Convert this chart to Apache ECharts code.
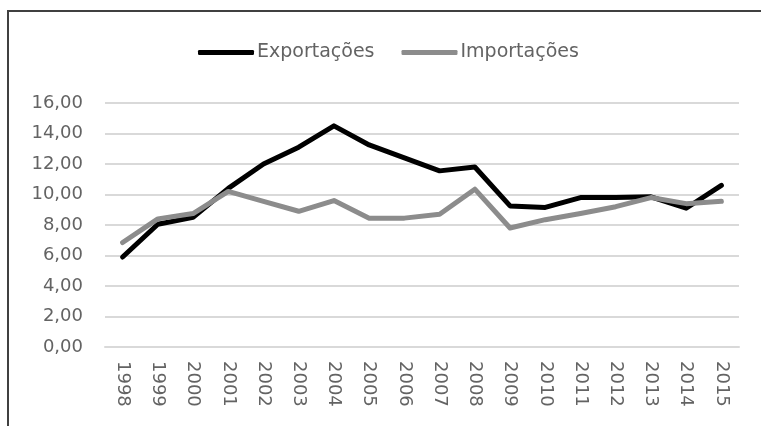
<!DOCTYPE html>
<html>
<head>
<meta charset="utf-8">
<script src="https://cdn.jsdelivr.net/npm/echarts@6/dist/echarts.min.js"></script>
<style>
  html, body { margin: 0; padding: 0; background: #fff; }
  #chart { width: 761px; height: 426px; }
</style>
</head>
<body>
<div id="chart"></div>
<script>
// dados
const anos = ['1998', '1999', '2000', '2001', '2002', '2003', '2004', '2005', '2006',
  '2007', '2008', '2009', '2010', '2011', '2012', '2013', '2014', '2015']
const exportacoes = [5.9, 8.05, 8.5, 10.4, 12.0, 13.1, 14.5, 13.25, 12.4,
  11.55, 11.8, 9.25, 9.15, 9.8, 9.8, 9.85, 9.1, 10.6]
const importacoes = [6.85, 8.4, 8.75, 10.2, 9.55, 8.9, 9.6, 8.45, 8.45,
  8.7, 10.35, 7.8, 8.35, 8.75, 9.2, 9.8, 9.4, 9.55]

const chart = echarts.init(document.getElementById('chart'))
const font = 'DejaVu Sans'
const textColor = '#636363'

const option = {
  backgroundColor: '#fff',
  animation: false,
  graphic: [
    // moldura (topo e esquerda)
    { type: 'line', shape: { x1: 7, y1: 11, x2: 761, y2: 11 }, style: { stroke: '#404040', lineWidth: 2 } },
    { type: 'line', shape: { x1: 8, y1: 11, x2: 8, y2: 426 }, style: { stroke: '#404040', lineWidth: 2 } }
  ],
  legend: {
    left: 193,
    top: 38,
    icon: 'roundRect',
    itemWidth: 56,
    itemHeight: 5,
    itemGap: 27,
    textStyle: { color: textColor, fontFamily: font, fontSize: 19, padding: [0, 0, 0, -2] },
    data: ['Exportações', 'Importações']
  },
  grid: { left: 105, right: 22, top: 103, bottom: 79, containLabel: false },
  xAxis: {
    type: 'category',
    data: anos,
    boundaryGap: true,
    axisLine: { lineStyle: { color: '#d9d9d9', width: 2 } },
    axisTick: { show: false },
    axisLabel: {
      rotate: -90,
      margin: 14,
      color: textColor,
      fontFamily: font,
      fontSize: 18,
      interval: 0
    }
  },
  yAxis: {
    type: 'value',
    min: 0,
    max: 16,
    interval: 2,
    axisLine: { show: false },
    axisTick: { show: false },
    axisLabel: {
      margin: 22,
      color: textColor,
      fontFamily: font,
      fontSize: 18,
      formatter: (v) => v.toFixed(2).replace('.', ',')
    },
    splitLine: { lineStyle: { color: '#d9d9d9', width: 2 } }
  },
  series: [
    {
      name: 'Exportações',
      type: 'line',
      data: exportacoes,
      symbol: 'none',
      itemStyle: { color: '#000' },
      lineStyle: { color: '#000', width: 5, cap: 'round', join: 'round' },
      z: 3
    },
    {
      name: 'Importações',
      type: 'line',
      data: importacoes,
      symbol: 'none',
      itemStyle: { color: '#8c8c8c' },
      lineStyle: { color: '#8c8c8c', width: 5, cap: 'round', join: 'round' },
      z: 4
    }
  ]
}

chart.setOption(option)
</script>
</body>
</html>
